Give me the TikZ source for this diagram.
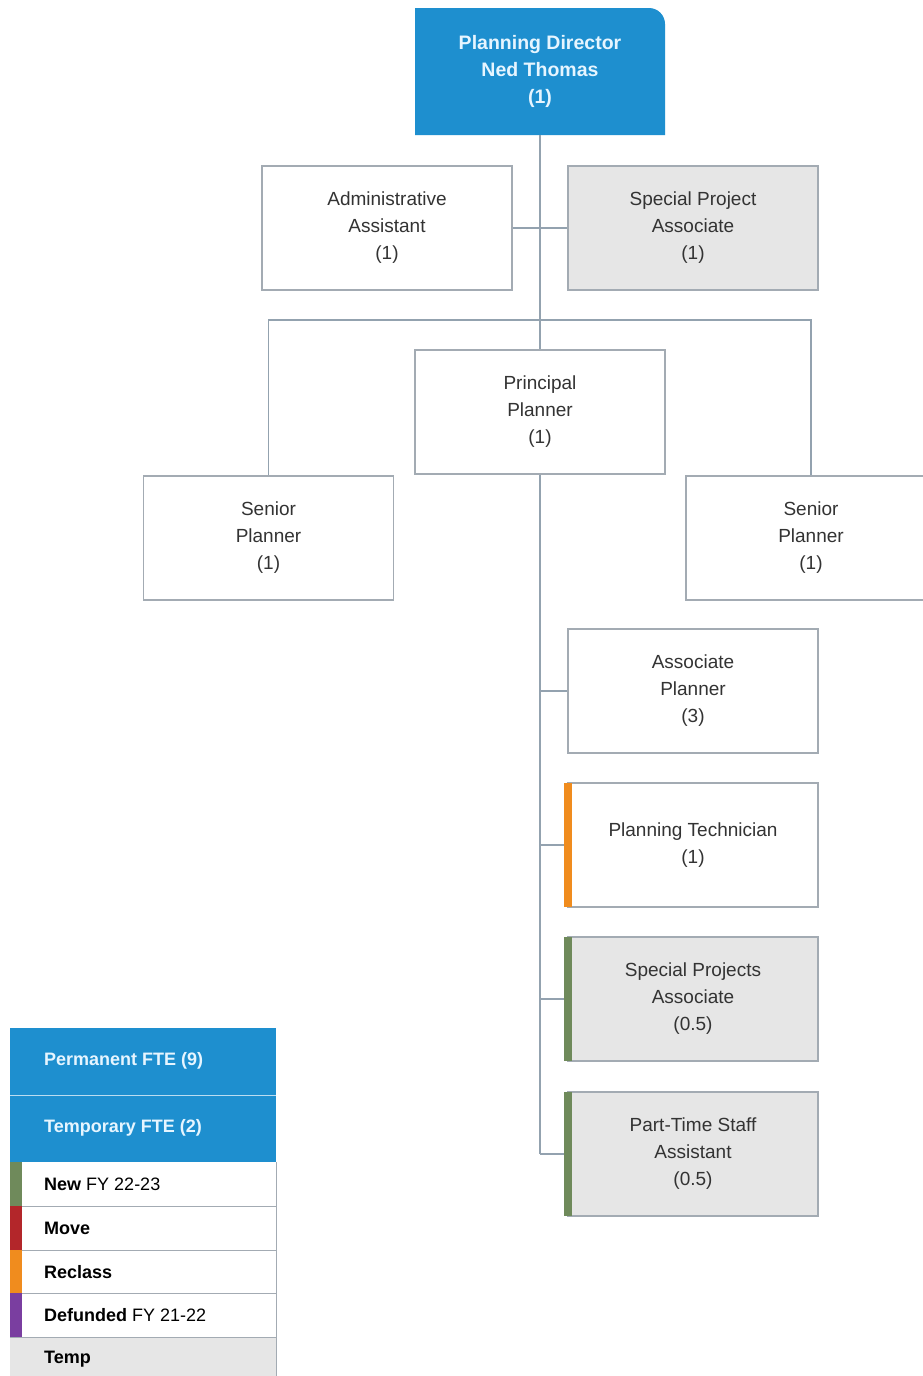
\documentclass[tikz,border=0pt]{standalone}
\usepackage{fontspec}
\setmainfont{Liberation Sans}
\definecolor{dirblue}{HTML}{1E8FCF}
\definecolor{lineg}{HTML}{93A2AF}
\definecolor{boxg}{HTML}{A3ABB3}
\definecolor{fillg}{HTML}{E6E6E6}
\definecolor{txt}{HTML}{333333}
\definecolor{newc}{HTML}{6F8A5B}
\definecolor{movec}{HTML}{B3262A}
\definecolor{reclc}{HTML}{F08C1E}
\definecolor{defc}{HTML}{7A3EA0}
\definecolor{lighttxt}{HTML}{E6F5FF}
\tikzset{
  posbox/.style={draw=boxg, line width=1.2pt, fill=white, minimum width=250pt, minimum height=124pt, inner sep=0pt, align=center, text=txt, font=\fontsize{19}{27}\selectfont},
  tempbox/.style={posbox, fill=fillg},
  conn/.style={draw=lineg, line width=1.3pt},
  legtxt/.style={anchor=west, inner sep=0pt, text=black, font=\fontsize{18}{22}\selectfont},
}
\begin{document}
\begin{tikzpicture}[x=1pt,y=-1pt]
\clip (0,0) rectangle (923,1376);
\fill[white] (0,0) rectangle (923,1376);
\coordinate (bus) at (540,320);
\coordinate (endv) at (540,1154);
% director shape
\fill[dirblue] (415,135) -- (415,8) [rounded corners=16pt] -- (665,8) [sharp corners] -- (665,135) -- cycle;
\node[inner sep=0pt, align=center, text=lighttxt, font=\bfseries\fontsize{19.5}{27}\selectfont] (dir) at (540,71.5) {Planning Director\\Ned Thomas\\(1)};
\coordinate (dirb) at (540,135);
\node[posbox] (aa) at (387,228) {Administrative\\Assistant\\(1)};
\node[tempbox] (spa) at (693,228) {Special Project\\Associate\\(1)};
\node[posbox] (pp) at (540,412) {Principal\\Planner\\(1)};
\node[posbox] (sp1) at (268.5,538) {Senior\\Planner\\(1)};
\node[posbox, text width=250pt] (sp2) at (811,538) {Senior\\Planner\\(1)};
\node[posbox] (ap) at (693,691) {Associate\\Planner\\(3)};
\node[posbox] (pt) at (693,845) {Planning Technician\\(1)};
\node[tempbox] (spx) at (693,999) {Special Projects\\Associate\\(0.5)};
\node[tempbox] (pts) at (693,1154) {Part-Time Staff\\Assistant\\(0.5)};
% connectors
\draw[conn] (dirb) -- (pp.north);
\draw[conn] (aa.east) -- (spa.west);
\draw[conn] (sp1.north) |- (bus) -| (sp2.north);
\draw[conn] (pp.south) -- (endv);
\draw[conn] (ap.west) -- (ap.west -| endv);
\draw[conn] (pt.west) -- (pt.west -| endv);
\draw[conn] (spx.west) -- (spx.west -| endv);
\draw[conn] (pts.west) -- (pts.west -| endv);
% status bars
\fill[reclc] (564,783) rectangle (572,907);
\fill[newc] (564,937) rectangle (572,1061);
\fill[newc] (564,1092) rectangle (572,1216);
% legend
\fill[dirblue] (10,1028) rectangle (276,1162);
\draw[white!70!dirblue, line width=1pt] (10,1095.5) -- (276,1095.5);
\node[inner sep=0pt, anchor=west, text=lighttxt, font=\bfseries\fontsize{18}{22}\selectfont] (lp) at (44,1061) {Permanent FTE (9)};
\node[inner sep=0pt, anchor=west, text=lighttxt, font=\bfseries\fontsize{18}{22}\selectfont] (lt) at (44,1128) {Temporary FTE (2)};
\fill[white] (10,1162) rectangle (276,1337);
\fill[fillg] (10,1337) rectangle (276,1380);
\draw[boxg, line width=1pt] (276,1162) -- (276,1380);
\foreach \yy in {1206,1250,1293,1337} {\draw[boxg, line width=1pt] (10,\yy) -- (276,\yy);}
\fill[newc] (10,1162) rectangle (22,1206);
\fill[movec] (10,1206) rectangle (22,1250);
\fill[reclc] (10,1250) rectangle (22,1293);
\fill[defc] (10,1293) rectangle (22,1337);
\node[legtxt] (l1) at (44,1184) {\textbf{New} FY 22-23};
\node[legtxt] (l2) at (44,1228) {\textbf{Move}};
\node[legtxt] (l3) at (44,1272) {\textbf{Reclass}};
\node[legtxt] (l4) at (44,1315) {\textbf{Defunded} FY 21-22};
\node[legtxt] (l5) at (44,1359) {\textbf{Temp}};
\end{tikzpicture}
\end{document}
